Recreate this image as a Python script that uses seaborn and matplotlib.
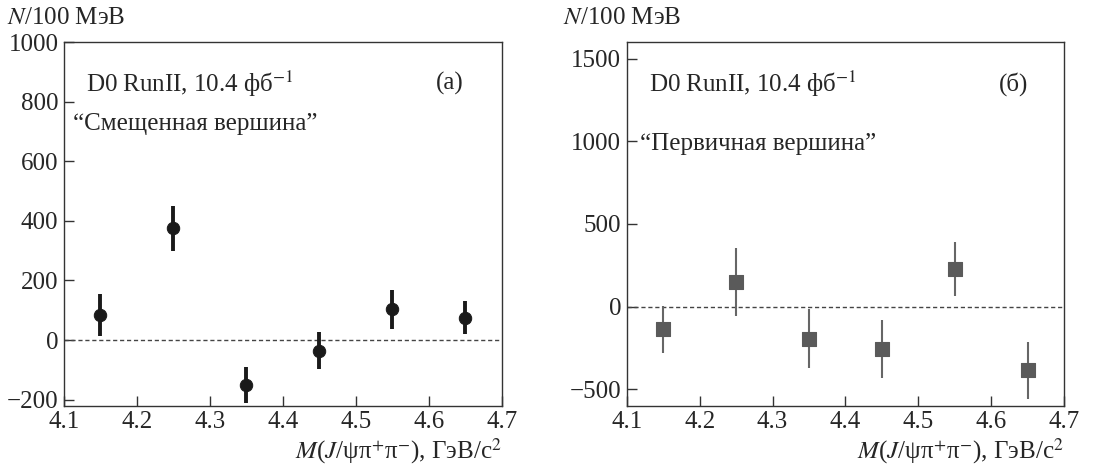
import numpy as np
import pandas as pd
import matplotlib
matplotlib.use("Agg")
import matplotlib.pyplot as plt
import seaborn as sns

# --- DATA ---
mass = [4.15, 4.25, 4.35, 4.45, 4.55, 4.65]

# (а) displaced vertex
n_displaced = [85, 375, -150, -35, 103, 75]
err_displaced = [70, 75, 60, 61, 65, 55]

# (б) primary vertex
n_primary = [-138, 150, -195, -258, 226, -387]
err_primary = [143, 205, 177, 175, 164, 173]

x_ticks = [4.1, 4.2, 4.3, 4.4, 4.5, 4.6, 4.7]

sns.set_style("ticks")
plt.rcParams['font.family'] = ['Liberation Serif', 'DejaVu Serif']
plt.rcParams['mathtext.fontset'] = 'stix'
plt.rcParams['xtick.direction'] = 'in'
plt.rcParams['ytick.direction'] = 'in'

df_a = pd.DataFrame({'m': mass, 'n': n_displaced, 'err': err_displaced})
df_b = pd.DataFrame({'m': mass, 'n': n_primary, 'err': err_primary})

fig = plt.figure(figsize=(11.2, 4.69), dpi=100)
ax1 = fig.add_axes([0.0571, 0.135, 0.391, 0.7754])
ax2 = fig.add_axes([0.5596, 0.135, 0.3904, 0.7754])

fs = 18

# --- panel (а) ---
ax1.axhline(0, color='#444444', lw=1, ls=(0, (3, 2)), zorder=1)
ax1.errorbar(df_a['m'], df_a['n'], yerr=df_a['err'], fmt='none',
             ecolor='#1a1a1a', elinewidth=2.8, capsize=0, zorder=2)
sns.scatterplot(data=df_a, x='m', y='n', ax=ax1, marker='o', s=80,
                color='#1a1a1a', edgecolor='#1a1a1a', zorder=3, legend=False)
ax1.set_xlim(4.1, 4.7)
ax1.set_ylim(-220, 1000)
ax1.set_yticks([-200, 0, 200, 400, 600, 800, 1000])
ax1.text(0.05, 0.885, 'D0 RunII, 10.4 фб$^{-1}$', transform=ax1.transAxes,
         fontsize=fs, va='center')
ax1.text(0.85, 0.885, '(а)', transform=ax1.transAxes, fontsize=fs, va='center')
ax1.text(0.02, 0.775, '“Смещенная вершина”', transform=ax1.transAxes,
         fontsize=fs, va='center')

# --- panel (б) ---
ax2.axhline(0, color='#444444', lw=1, ls=(0, (3, 2)), zorder=1)
ax2.errorbar(df_b['m'], df_b['n'], yerr=df_b['err'], fmt='none',
             ecolor='#666666', elinewidth=1.5, capsize=0, zorder=2)
sns.scatterplot(data=df_b, x='m', y='n', ax=ax2, marker='s', s=95,
                color='#5a5a5a', edgecolor='#5a5a5a', zorder=3, legend=False)
ax2.set_xlim(4.1, 4.7)
ax2.set_ylim(-600, 1600)
ax2.set_yticks([-500, 0, 500, 1000, 1500])
ax2.text(0.05, 0.885, 'D0 RunII, 10.4 фб$^{-1}$', transform=ax2.transAxes,
         fontsize=fs, va='center')
ax2.text(0.85, 0.885, '(б)', transform=ax2.transAxes, fontsize=fs, va='center')
ax2.text(0.03, 0.72, '“Первичная вершина”', transform=ax2.transAxes,
         fontsize=fs, va='center')

for ax in (ax1, ax2):
    ax.set_xticks(x_ticks)
    ax.set_xticklabels([f'{t:.1f}' for t in x_ticks])
    ax.tick_params(axis='both', labelsize=fs, length=7, width=1,
                   color='#333333', top=False, right=False, pad=4)
    for sp in ax.spines.values():
        sp.set_visible(True)
        sp.set_linewidth(1)
        sp.set_color('#333333')
    ax.set_xlabel('$M$($J$/ψπ$^{+}$π$^{-}$), ГэВ/c$^{2}$', fontsize=fs,
                  loc='right', labelpad=2)
    ax.set_ylabel('')

fig.text(0.006, 0.962, '$N$/100 МэВ', fontsize=fs, va='center', ha='left')
fig.text(0.503, 0.962, '$N$/100 МэВ', fontsize=fs, va='center', ha='left')

fig.savefig('out.png', dpi=100)
